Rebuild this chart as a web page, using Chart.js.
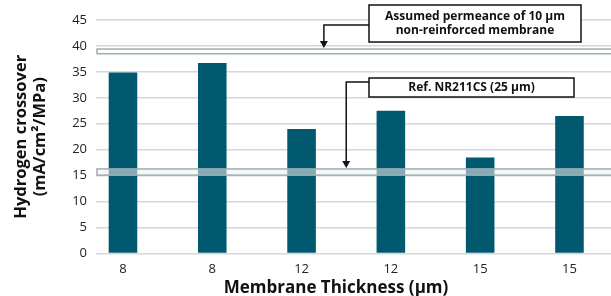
<!DOCTYPE html>
<html>
<head>
<meta charset="utf-8">
<script src="https://cdn.jsdelivr.net/npm/chart.js@4"></script>
<style>
  html, body { margin: 0; padding: 0; background: #fff; overflow: hidden; }
  #wrap { width: 611px; height: 296px; }
</style>
</head>
<body>
<div id="wrap"><canvas id="chart" width="611" height="296"></canvas></div>
<script>
// values
var thickness = ['8', '8', '12', '12', '15', '15'];
var crossover = [34.9, 36.7, 24.0, 27.5, 18.5, 26.5];
var yTicks = [0, 5, 10, 15, 20, 25, 30, 35, 40, 45];

// reference bands (min, max) in mA/cm2/MPa
var band10um = [38.5, 39.4];
var bandNR211 = [15.1, 16.3];
var noteTop = ['Assumed permeance of 10 µm', 'non-reinforced membrane'];
var noteRef = ['Ref. NR211CS (25 µm)'];
var xTitle = 'Membrane Thickness (µm)';

var FONT = 'Open Sans';
var BAR = '#00596f';

function arrowDown(ctx, x, y) {
    ctx.beginPath();
    ctx.moveTo(x - 4, y - 7);
    ctx.lineTo(x + 4, y - 7);
    ctx.lineTo(x, y);
    ctx.closePath();
    ctx.fill();
}

function noteBox(ctx, x1, y1, x2, y2, lines) {
    ctx.fillStyle = '#fff';
    ctx.fillRect(x1, y1, x2 - x1, y2 - y1);
    ctx.strokeStyle = '#111';
    ctx.lineWidth = 1.5;
    ctx.strokeRect(x1, y1, x2 - x1, y2 - y1);
    ctx.fillStyle = '#111';
    ctx.font = 'bold 12px "' + FONT + '"';
    ctx.textAlign = 'center';
    ctx.textBaseline = 'middle';
    var cx = (x1 + x2) / 2, cy = (y1 + y2) / 2;
    var lh = 14;
    lines.forEach(function(t, i) {
        ctx.fillText(t, cx, cy + (i - (lines.length - 1) / 2) * lh);
    });
}

// bands and notes, drawn on top of the bars
var notesPlugin = {
    id: 'notes',
    afterDatasetsDraw: function(chart) {
        var ctx = chart.ctx, x = chart.scales.x, y = chart.scales.y;
        var left = chart.chartArea.left + 1, right = chart.width + 5;
        ctx.save();

        // 10 um band
        var t = y.getPixelForValue(band10um[1]), b = y.getPixelForValue(band10um[0]);
        ctx.fillStyle = '#fff';
        ctx.fillRect(left, t, right - left, b - t);
        ctx.strokeStyle = '#a2acb2';
        ctx.lineWidth = 1.5;
        ctx.strokeRect(left, t, right - left, b - t);

        // NR211 band, see-through over the bars
        t = y.getPixelForValue(bandNR211[1]); b = y.getPixelForValue(bandNR211[0]);
        ctx.fillStyle = 'rgba(235,240,242,0.55)';
        ctx.fillRect(left, t, right - left, b - t);
        ctx.strokeRect(left, t, right - left, b - t);

        // connectors
        ctx.strokeStyle = '#111';
        ctx.fillStyle = '#111';
        ctx.lineWidth = 1.5;
        var ax = x.getPixelForValue(2.25);
        ctx.beginPath();
        ctx.moveTo(369, 25);
        ctx.lineTo(ax, 25);
        ctx.lineTo(ax, y.getPixelForValue(band10um[1]) - 4);
        ctx.stroke();
        arrowDown(ctx, ax, y.getPixelForValue(band10um[1]) - 1);

        var bx = x.getPixelForValue(2.5);
        ctx.beginPath();
        ctx.moveTo(369, 82);
        ctx.lineTo(bx, 82);
        ctx.lineTo(bx, y.getPixelForValue(bandNR211[1]) - 4);
        ctx.stroke();
        arrowDown(ctx, bx, y.getPixelForValue(bandNR211[1]) - 1);

        noteBox(ctx, 369, 5, 581, 42, noteTop);
        noteBox(ctx, 369, 78, 574, 97, noteRef);

        // x axis title
        ctx.fillStyle = '#111';
        ctx.font = 'bold 17px "' + FONT + '"';
        ctx.textAlign = 'center';
        ctx.textBaseline = 'middle';
        ctx.fillText(xTitle, 336, 288);
        ctx.restore();
    }
};

new Chart(document.getElementById('chart'), {
    type: 'bar',
    data: {
        datasets: [{
            data: crossover.map(function(v, i) { return {x: i, y: v}; }),
            backgroundColor: BAR,
            borderWidth: 0,
            barPercentage: 0.32,
            categoryPercentage: 1
        }]
    },
    options: {
        responsive: false,
        animation: false,
        layout: { padding: { top: 20, right: 0, left: 0, bottom: 0 } },
        plugins: { legend: { display: false }, tooltip: { enabled: false } },
        scales: {
            x: {
                type: 'linear',
                offset: false,
                min: -0.302,
                max: 5.465,
                afterBuildTicks: function(scale) {
                    scale.ticks = thickness.map(function(_, i) { return {value: i}; });
                },
                afterFit: function(scale) { scale.height = 42.5; },
                ticks: {
                    autoSkip: false,
                    maxRotation: 0,
                    padding: 8,
                    color: '#222',
                    font: { family: FONT, size: 13 },
                    callback: function(v) { return thickness[v]; }
                },
                grid: { display: false, drawTicks: false },
                border: { display: false }
            },
            y: {
                min: 0,
                max: 45,
                afterBuildTicks: function(scale) {
                    scale.ticks = yTicks.map(function(v) { return {value: v}; });
                },
                afterFit: function(scale) { scale.width = 96; },
                ticks: {
                    padding: 9,
                    color: '#222',
                    font: { family: FONT, size: 13 }
                },
                grid: { color: '#d3d8dc', lineWidth: 1.5, drawTicks: false },
                border: { display: false },
                title: {
                    display: true,
                    text: ['Hydrogen crossover', '(mA/cm²/MPa)'],
                    color: '#111',
                    padding: { top: 12, bottom: 0 },
                    font: { family: FONT, size: 16.5, weight: 'bold', lineHeight: 1.15 }
                }
            }
        }
    },
    plugins: [notesPlugin]
});
</script>
</body>
</html>
